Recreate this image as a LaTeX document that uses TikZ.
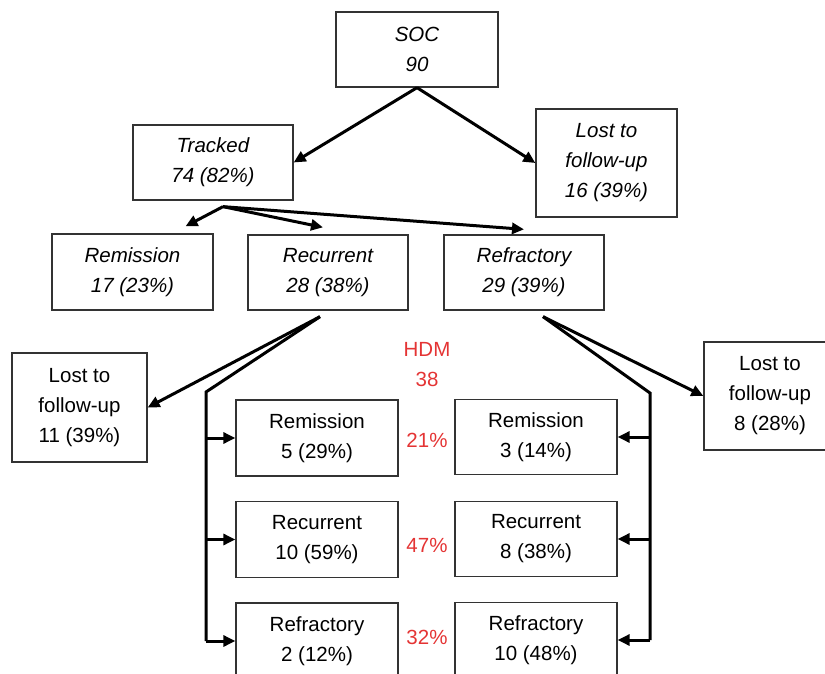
\documentclass[tikz,border=0pt]{standalone}
\usepackage{fontspec}
\setmainfont{Liberation Sans}
\usetikzlibrary{arrows.meta}
\definecolor{hdmred}{RGB}{228,52,52}
\newcommand{\boxfont}{\fontsize{20.5}{30}\selectfont}

\begin{document}
\begin{tikzpicture}[x=1pt,y=-1pt,
  box/.style={draw=black!80, line width=1.3pt, align=center, inner sep=0pt, font=\boxfont},
  socbox/.style={box, font=\boxfont\itshape},
  hdmlabel/.style={text=hdmred, align=center, font=\boxfont},
  arr/.style={line width=3pt, -{Triangle[length=12pt,width=11pt]}},
  link/.style={line width=3pt}]
\useasboundingbox (0,0) rectangle (825,674);
\clip (0,0) rectangle (825,674);

% SOC arm
\node[socbox, minimum width=162pt, minimum height=75pt] (soc) at (417,49.5) {SOC\\90};
\node[socbox, minimum width=160pt, minimum height=75pt] (tracked) at (213,162.5) {Tracked\\74 (82\%)};
\node[socbox, minimum width=141pt, minimum height=108pt] (lost-1) at (606.5,163) {Lost to\\follow-up\\16 (39\%)};
\node[socbox, minimum width=161pt, minimum height=76pt] (rem-1) at (132.5,272) {Remission\\17 (23\%)};
\node[socbox, minimum width=160pt, minimum height=75pt] (rec-1) at (328,272.5) {Recurrent\\28 (38\%)};
\node[socbox, minimum width=160pt, minimum height=75pt] (ref-1) at (524,272.5) {Refractory\\29 (39\%)};

% HDM arm
\node[box, minimum width=135pt, minimum height=109pt] (lost-2) at (79.5,407.5) {Lost to\\follow-up\\11 (39\%)};
\node[box, minimum width=132pt, minimum height=108pt] (lost-3) at (770,396) {Lost to\\follow-up\\8 (28\%)};
\node[box, minimum width=162pt, minimum height=76pt] (rem-2) at (317,438) {Remission\\5 (29\%)};
\node[box, minimum width=162pt, minimum height=76pt] (rec-2) at (317,539.5) {Recurrent\\10 (59\%)};
\node[box, minimum width=162pt, minimum height=76pt] (ref-2) at (317,641) {Refractory\\2 (12\%)};
\node[box, minimum width=162pt, minimum height=75pt] (rem-3) at (536,437) {Remission\\3 (14\%)};
\node[box, minimum width=162pt, minimum height=75pt] (rec-3) at (536,539) {Recurrent\\8 (38\%)};
\node[box, minimum width=162pt, minimum height=75pt] (ref-3) at (536,640) {Refractory\\10 (48\%)};

\node[hdmlabel] (hdm) at (427,365) {HDM\\38};
\node[hdmlabel] (pct-rem) at (427,440) {21\%};
\node[hdmlabel] (pct-rec) at (427,545) {47\%};
\node[hdmlabel] (pct-ref) at (427,637) {32\%};

\coordinate (tsplit) at ([xshift=10pt,yshift=-6pt]tracked.south);
\coordinate (recsplit) at ([xshift=-8pt,yshift=-6pt]rec-1.south);
\coordinate (refsplit) at ([xshift=19pt,yshift=-6pt]ref-1.south);
\coordinate (lbend) at (206,392);
\coordinate (rbend) at (650,393);

\path[arr] (soc.south) edge (tracked.east);
\path[arr] (soc.south) edge (lost-1.west);
\path[arr] (tsplit) edge ([xshift=53pt,yshift=7pt]rem-1.north);
\path[arr] (tsplit) edge ([xshift=-5pt,yshift=7pt]rec-1.north);
\path[arr] (tsplit) edge ([yshift=5pt]ref-1.north);

\path[arr] (recsplit) edge (lost-2.east);
\path[arr] (refsplit) edge (lost-3.west);
\draw[link] (recsplit) -- (lbend) -- (ref-2.west -| lbend);
\draw[link] (refsplit) -- (rbend) -- (ref-3.east -| rbend);
\foreach \n in {rem,rec,ref} {
  \draw[arr] (\n-2.west -| lbend) -- (\n-2.west);
  \draw[arr] (\n-3.east -| rbend) -- (\n-3.east);
}
\end{tikzpicture}
\end{document}
